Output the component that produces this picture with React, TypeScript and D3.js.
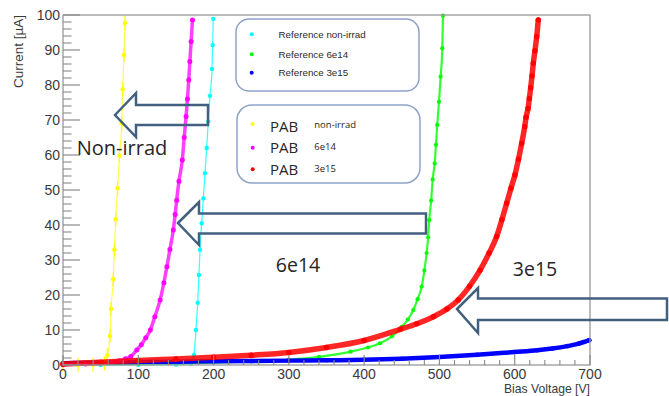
import React from "react";
import * as d3 from "d3";

// Bias voltage [V] / leakage current [µA] pairs for each sensor
const refNonIrrad: [number, number][] = [
  [0, 0], [50, 0], [100, 0.05], [150, 0.1], [170, 0.5], [174, 2.9], [176.6, 10],
  [178.9, 17.8], [180.6, 25.7], [182, 32.9], [184.2, 40.5], [186.4, 47.6],
  [188.6, 54.8], [190.8, 62], [193, 69.6], [195.2, 76.9], [197.9, 84.6],
  [198.8, 91.4], [199.6, 98.9],
];
const ref6e14: [number, number][] = [
  [0, 0.1], [100, 0.3], [200, 0.7], [250, 1.0], [300, 1.5], [340, 2.3], [382, 3.8],
  [405, 5], [421, 6.2], [437, 8.2], [450, 10.9], [458, 13], [465.3, 15.7],
  [471, 18.8], [476.4, 22.4], [480, 27], [483, 32], [485, 36.5], [486.5, 41.4],
  [489, 47], [491, 53], [493.7, 57.6], [495.4, 62.9], [497.1, 68.6], [499.4, 75.2],
  [501.6, 82.4], [503.8, 90.5], [504.7, 99.8],
];
const ref3e15: [number, number][] = [
  [0, 0.5], [50, 0.7], [100, 0.85], [150, 0.95], [200, 1.05], [250, 1.15],
  [300, 1.25], [350, 1.35], [400, 1.5], [450, 1.8], [500, 2.3], [550, 2.9],
  [600, 3.7], [630, 4.2], [650, 4.7], [670, 5.4], [685, 6.1], [699, 7.1],
];
const pabNonIrrad: [number, number][] = [
  [0, 0], [20, 0], [40, 0.1], [55, 0.5], [58.9, 2.7], [62.4, 8.3], [63.8, 16],
  [66.8, 24.5], [68.2, 32.9], [70, 41.6], [72.5, 50.5], [75, 59.8], [78, 69],
  [79.3, 78.8], [81, 88.6], [82.3, 97.7],
];
const pab6e14: [number, number][] = [
  [0, 0.1], [30, 0.3], [50, 0.5], [65, 0.8], [75, 1.2], [83, 1.8], [90, 2.4],
  [98, 4.3], [104, 5.8], [110, 7.8], [116, 10], [122, 13.8], [129, 18.6],
  [134, 23.5], [138, 28.1], [142, 33], [146.5, 38.6], [149, 43], [151, 47.1],
  [154, 52.5], [158.5, 58.6], [161, 65], [163.5, 71], [165.3, 76], [167, 81.4],
  [168.5, 86.7], [170.2, 92.4], [172, 98.6],
];
const pab3e15: [number, number][] = [
  [0, 0.3], [50, 0.8], [100, 1.3], [150, 1.7], [200, 2.2], [250, 2.8], [300, 3.6],
  [350, 5.0], [400, 7.0], [448, 10.2], [470, 11.8], [492, 13.8], [510, 16],
  [525, 18.6], [540, 22.5], [554, 27.1], [566, 32], [576, 36.7], [583, 41.5],
  [589.3, 46.2], [595, 50.5], [600.3, 54.3], [605, 58.8], [609.2, 63.3],
  [613.3, 68.1], [615.1, 70.8], [617.7, 73.3], [619.4, 76.1], [621.2, 79.2],
  [623, 82.6], [624.7, 86.2], [626.9, 89.8], [629.2, 93.8], [631.3, 98.6],
];

const voltageTicks = [0, 100, 200, 300, 400, 500, 600, 700];
const currentTicks = [0, 10, 20, 30, 40, 50, 60, 70, 80, 90, 100];

const referenceLabels = ["Reference non-irrad", "Reference 6e14", "Reference 3e15"];
const pabLabels = ["non-irrad", "6e14", "3e15"];

const W = 669;
const H = 396;
const frame = { left: 63, right: 590, top: 15, bottom: 365 };

const x = d3.scaleLinear().domain([0, 700]).range([frame.left, frame.right]);
const y = d3.scaleLinear().domain([0, 100]).range([frame.bottom, frame.top]);

const lineGen = d3
  .line<[number, number]>()
  .x((d) => x(d[0]))
  .y((d) => y(d[1]))
  .curve(d3.curveMonotoneX);

type SeriesStyle = {
  data: [number, number][];
  color: string;
  width: number;
  lineOpacity: number;
  r: number;
  errors?: number;
};

// drawing order: references underneath, PAB on top
const series: SeriesStyle[] = [
  { data: refNonIrrad, color: "#00ffff", width: 1.2, lineOpacity: 0.8, r: 2.2 },
  { data: ref6e14, color: "#00ff00", width: 2.2, lineOpacity: 0.8, r: 2.1 },
  { data: ref3e15, color: "#0000ff", width: 4.5, lineOpacity: 1, r: 2.3 },
  { data: pabNonIrrad, color: "#ffff00", width: 1.2, lineOpacity: 0.7, r: 2.3, errors: 2 },
  { data: pab6e14, color: "#ff00ff", width: 3.5, lineOpacity: 0.75, r: 2.5 },
  { data: pab3e15, color: "#ff0000", width: 5.5, lineOpacity: 0.85, r: 2.7 },
];

const arrowStroke = "#41607f";
const legendStroke = "#8fa3c8";
const textFont = "'Open Sans', 'Noto Sans', sans-serif";
const axisFont = "'Liberation Sans', Arial, sans-serif";

// block arrow pointing left: tip, head base, head top/bottom, shaft y-range, tail
function arrowPath(
  tipX: number, tipY: number, headX: number, headTop: number, headBot: number,
  shaftTop: number, shaftBot: number, tailX: number
) {
  return `M${tipX},${tipY} L${headX},${headTop} L${headX},${shaftTop} L${tailX},${shaftTop} L${tailX},${shaftBot} L${headX},${shaftBot} L${headX},${headBot} Z`;
}

export default function App() {
  const minorY = d3.range(0, 100.001, 2).filter((v) => v % 10 !== 0);
  const minorX = d3.range(0, 700.001, 20).filter((v) => v % 100 !== 0);

  return (
    <svg
      width={W}
      height={H}
      style={{ position: "absolute", left: 0, top: 0, background: "#fff" }}
    >
      <rect x={0} y={0} width={W} height={H} fill="#fff" />

      {/* curves */}
      <g>
        {series.map((s, i) => (
          <g key={i}>
            <path
              d={lineGen(s.data) || ""}
              fill="none"
              stroke={s.color}
              strokeWidth={s.width}
              strokeOpacity={s.lineOpacity}
              strokeLinejoin="round"
              strokeLinecap="round"
            />
            {s.errors
              ? s.data.map((d, j) => (
                  <line
                    key={"e" + j}
                    x1={x(d[0])}
                    x2={x(d[0])}
                    y1={y(d[1] - s.errors!)}
                    y2={y(Math.min(100, d[1] + s.errors!))}
                    stroke={s.color}
                    strokeWidth={1.2}
                  />
                ))
              : null}
            {s.data.map((d, j) => (
              <circle key={j} cx={x(d[0])} cy={y(d[1])} r={s.r} fill={s.color} />
            ))}
          </g>
        ))}
      </g>

      {/* frame */}
      <rect
        x={frame.left}
        y={frame.top}
        width={frame.right - frame.left}
        height={frame.bottom - frame.top}
        fill="none"
        stroke="#999"
        strokeWidth={1.3}
      />

      {/* y axis ticks */}
      {currentTicks.map((t) => (
        <g key={"yt" + t}>
          <line x1={frame.left} x2={frame.left + 17} y1={y(t)} y2={y(t)} stroke="#8a8a8a" strokeWidth={1.2} />
          <text
            x={60}
            y={y(t)}
            dy="0.36em"
            textAnchor="end"
            fontFamily={axisFont}
            fontSize={14}
            fill="#3a3a3a"
          >
            {t}
          </text>
        </g>
      ))}
      {minorY.map((t) => (
        <line key={"ym" + t} x1={frame.left} x2={frame.left + 8.5} y1={y(t)} y2={y(t)} stroke="#8a8a8a" strokeWidth={1.1} />
      ))}

      {/* x axis ticks */}
      {voltageTicks.map((t) => (
        <g key={"xt" + t}>
          <line x1={x(t)} x2={x(t)} y1={frame.bottom} y2={frame.bottom - 10} stroke="#8a8a8a" strokeWidth={1.2} />
          <text
            x={x(t)}
            y={378.5}
            textAnchor="middle"
            fontFamily={axisFont}
            fontSize={14}
            fill="#3a3a3a"
          >
            {t}
          </text>
        </g>
      ))}
      {minorX.map((t) => (
        <line key={"xm" + t} x1={x(t)} x2={x(t)} y1={frame.bottom} y2={frame.bottom - 5} stroke="#8a8a8a" strokeWidth={1.1} />
      ))}

      {/* axis titles */}
      <text
        x={frame.right}
        y={392.7}
        textAnchor="end"
        fontFamily={axisFont}
        fontSize={12.2}
        fill="#3a3a3a"
      >
        Bias Voltage [V]
      </text>
      <text
        transform={`translate(22.5,${frame.top}) rotate(-90)`}
        textAnchor="end"
        fontFamily={axisFont}
        fontSize={13.5}
        fill="#3a3a3a"
      >
        Current [µA]
      </text>

      {/* annotation arrows */}
      <g fill="none" stroke={arrowStroke} strokeWidth={2.5} strokeLinejoin="miter">
        <path d={arrowPath(115, 115, 136, 93, 137, 105, 125, 208)} />
        <path d={arrowPath(178, 223, 199, 202, 245, 213.5, 233.5, 426)} />
        <path d={arrowPath(457, 309, 478, 288, 333, 298.5, 320, 667)} />
      </g>

      {/* annotation labels */}
      <g fontFamily={textFont} fill="#262626">
        <text x={122} y={155} textAnchor="middle" fontSize={20}>
          Non-irrad
        </text>
        <text x={298} y={272} textAnchor="middle" fontSize={19.5}>
          6e14
        </text>
        <text x={535} y={276} textAnchor="middle" fontSize={19.5}>
          3e15
        </text>
      </g>

      {/* reference legend */}
      <rect x={236} y={19} width={183} height={72} rx={13} fill="#fff" stroke={legendStroke} strokeWidth={1.5} />
      {referenceLabels.map((label, i) => (
        <g key={label}>
          <circle cx={251.7} cy={[34.3, 54.3, 72.7][i]} r={2} fill={series[i].color} />
          <text
            x={278.5}
            y={[34.3, 54.3, 72.7][i] + 3.5}
            fontFamily={axisFont}
            fontSize={9.8}
            fill="#2a2a2a"
          >
            {label}
          </text>
        </g>
      ))}

      {/* PAB legend */}
      <rect x={237} y={105} width={183} height={78} rx={15} fill="#fff" stroke={legendStroke} strokeWidth={1.5} />
      {pabLabels.map((label, i) => (
        <g key={label}>
          <circle cx={252.7} cy={[124, 147.7, 169.3][i]} r={2} fill={series[i + 3].color} />
          <text x={270} y={[131.7, 153.3, 175][i]} fontFamily={textFont} fontSize={15} fill="#262626">
            PAB
          </text>
          <text x={314.3} y={[128, 150, 171.7][i]} fontFamily={textFont} fontSize={9.5} fill="#262626">
            {label}
          </text>
        </g>
      ))}
    </svg>
  );
}
